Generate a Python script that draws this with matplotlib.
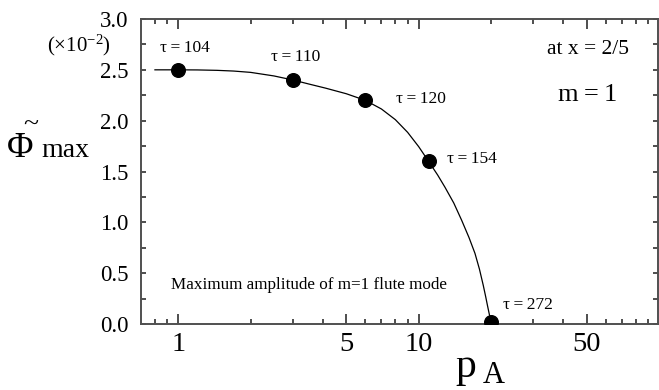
import matplotlib
matplotlib.use("Agg")
import matplotlib.pyplot as plt
from matplotlib.ticker import FixedLocator, NullFormatter, FixedFormatter

# =========================================================
# DATA
# =========================================================
p_a = [1.0, 3.0, 6.0, 11.0, 20.0]
phi_max = [2.50, 2.40, 2.20, 1.60, 0.02]
tau_labels = ["104", "110", "120", "154", "272"]

# fitted curve
curve_p = [0.8, 1.0, 1.2, 1.45, 1.7, 2.0, 2.5, 3.0, 3.5, 4.1, 5.0, 6.0, 7.0,
           8.0, 9.0, 10.0, 11.0, 12.0, 12.87, 14.0, 15.1, 16.2, 17.15,
           17.9, 18.57, 19.0, 19.36, 19.7, 20.0]
curve_phi = [2.50, 2.50, 2.499, 2.495, 2.488, 2.475, 2.44, 2.40, 2.36, 2.32,
             2.265, 2.20, 2.115, 2.01, 1.885, 1.745, 1.60, 1.465, 1.345, 1.19,
             1.02, 0.85, 0.695, 0.54, 0.38, 0.27, 0.175, 0.09, 0.02]

x_major = [1, 5, 10, 50]
x_minor = [0.8, 0.9, 2, 3, 4, 6, 7, 8, 9, 20, 30, 40, 60, 70, 80, 90]
y_major = [0.0, 0.5, 1.0, 1.5, 2.0, 2.5, 3.0]
y_minor = [0.25, 0.75, 1.25, 1.75, 2.25, 2.75]

# =========================================================
# STYLE
# =========================================================
plt.rcParams["font.family"] = ["Liberation Serif", "DejaVu Serif"]
plt.rcParams["mathtext.fontset"] = "custom"
plt.rcParams["mathtext.rm"] = "Liberation Serif"
plt.rcParams["mathtext.it"] = "Liberation Serif:italic"

W, H = 659, 390
fig = plt.figure(figsize=(W / 100, H / 100), dpi=100)
ax = fig.add_axes([141 / W, 1 - 324 / H, (658 - 141) / W, (324 - 19) / H])

ax.plot(curve_p, curve_phi, color="black", lw=0.9, zorder=2)
ax.plot(p_a, phi_max, "o", color="black", ms=9.8, zorder=3)

ax.set_xscale("log")
ax.set_xlim(0.7, 99)
ax.set_ylim(0, 3.0)

ax.xaxis.set_major_locator(FixedLocator(x_major))
ax.xaxis.set_major_formatter(FixedFormatter([str(v) for v in x_major]))
ax.xaxis.set_minor_locator(FixedLocator(x_minor))
ax.xaxis.set_minor_formatter(NullFormatter())
ax.yaxis.set_major_locator(FixedLocator(y_major))
ax.yaxis.set_major_formatter(FixedFormatter([f"{v:.1f}" for v in y_major]))
ax.yaxis.set_minor_locator(FixedLocator(y_minor))

spine_col = "#505050"
for s in ax.spines.values():
    s.set_color(spine_col)
    s.set_linewidth(1.4)

ax.tick_params(axis="both", which="both", direction="in", top=True, right=True,
               color="#303030", width=1.2)
ax.tick_params(axis="x", which="major", length=7, labelsize=20.5, pad=6)
ax.tick_params(axis="x", which="minor", length=3.5)
ax.tick_params(axis="y", which="both", length=3.8, labelsize=16.5, pad=9)

# tau labels next to each point
tau_pos = [(160, 48), (271, 57), (396, 99), (447, 159), (503, 305)]
for lab, (px, py) in zip(tau_labels, tau_pos):
    fig.text(px / W, 1 - py / H, "\u03c4\u2009=\u2009" + lab, fontsize=12.5,
             ha="left", va="center")

fig.text(547 / W, 1 - 50 / H, "at x = 2/5", fontsize=15.5, ha="left", va="center")
fig.text(558 / W, 1 - 95 / H, "m\u2009=\u20091", fontsize=19, ha="left", va="center")
fig.text(171 / W, 1 - 285 / H, "Maximum amplitude of m=1 flute mode", fontsize=12.3,
         ha="left", va="center")

# y label: tilde Phi with "max"
fig.text(7 / W, 1 - 157 / H, "\u03a6", fontsize=26, ha="left", va="baseline")
fig.text(31 / W, 1 - 125 / H, "~", fontsize=20, ha="center", va="center")
fig.text(41 / W, 1 - 157 / H, "max", fontsize=20, ha="left", va="baseline")
fig.text(47 / W, 1 - 51 / H, r"($\times$10$^{-2}$)", fontsize=15, ha="left", va="baseline")

# x label: p_A
fig.text(455 / W, 1 - 377 / H, "p", fontsize=30, ha="left", va="baseline")
fig.text(483 / W, 1 - 383 / H, "A", fontsize=22, ha="left", va="baseline")

fig.savefig("out.png", dpi=100)
